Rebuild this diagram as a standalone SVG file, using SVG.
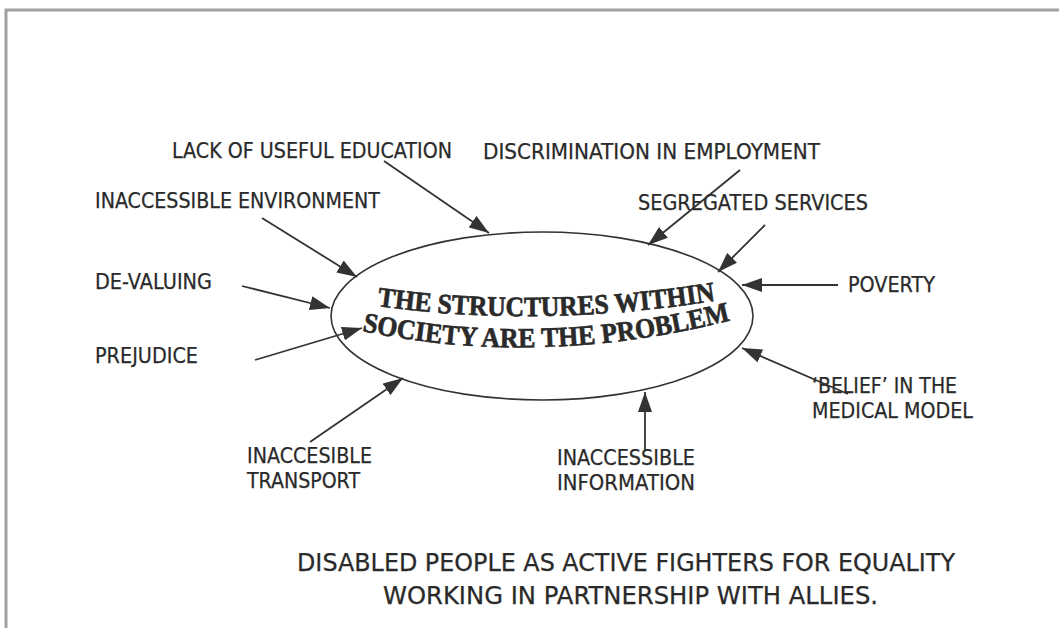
<svg xmlns="http://www.w3.org/2000/svg" width="1059" height="628" viewBox="0 0 1059 628">
<style>
.lbl{font-family:"DejaVu Sans","Liberation Sans",sans-serif;font-size:20.5px;fill:#2a2a2a;stroke:#2a2a2a;stroke-width:0.25}
.foot{font-family:"DejaVu Sans","Liberation Sans",sans-serif;font-size:24px;fill:#2a2a2a;stroke:#2a2a2a;stroke-width:0.25}
.core{font-family:"Liberation Serif","DejaVu Serif",serif;font-size:28px;font-weight:bold;fill:#2a2a2a;stroke:#2a2a2a;stroke-width:0.7}
</style>
<defs>
<marker id="ahb" viewBox="0 0 20 14" refX="20" refY="7" markerWidth="20" markerHeight="14" markerUnits="userSpaceOnUse" orient="auto">
<path d="M0,0 L20,7 L0,14 z" fill="#333"/>
</marker>
<path id="p1" d="M 377 306 Q 540 329 720 300"/>
<path id="p2" d="M 362 331 Q 540 368.5 732 320"/>
</defs>
<rect x="0" y="0" width="1059" height="628" fill="#fff"/>
<rect x="6" y="10" width="1070" height="640" fill="none" stroke="#a0a0a0" stroke-width="3"/>

<g id="core">
<ellipse cx="542" cy="316" rx="211" ry="84" fill="none" stroke="#333" stroke-width="1.6"/>
<text class="core"><textPath href="#p1" textLength="340" lengthAdjust="spacingAndGlyphs">THE STRUCTURES WITHIN</textPath></text>
<text class="core"><textPath href="#p2" textLength="372" lengthAdjust="spacingAndGlyphs">SOCIETY ARE THE PROBLEM</textPath></text>
</g>

<g id="n-education"><text class="lbl" x="172" y="158" textLength="280" lengthAdjust="spacingAndGlyphs">LACK OF USEFUL EDUCATION</text></g>
<g id="n-employment"><text class="lbl" x="483" y="159" textLength="337" lengthAdjust="spacingAndGlyphs">DISCRIMINATION IN EMPLOYMENT</text></g>
<g id="n-environment"><text class="lbl" x="95" y="208" textLength="285" lengthAdjust="spacingAndGlyphs">INACCESSIBLE ENVIRONMENT</text></g>
<g id="n-segregated"><text class="lbl" x="638" y="210" textLength="230" lengthAdjust="spacingAndGlyphs">SEGREGATED SERVICES</text></g>
<g id="n-devaluing"><text class="lbl" x="95" y="289" textLength="117" lengthAdjust="spacingAndGlyphs">DE-VALUING</text></g>
<g id="n-poverty"><text class="lbl" x="848" y="292" textLength="87" lengthAdjust="spacingAndGlyphs">POVERTY</text></g>
<g id="n-prejudice"><text class="lbl" x="95" y="363" textLength="103" lengthAdjust="spacingAndGlyphs">PREJUDICE</text></g>
<g id="n-belief"><text class="lbl" x="812" y="393" textLength="145" lengthAdjust="spacingAndGlyphs">‘BELIEF’ IN THE</text><text class="lbl" x="812" y="418" textLength="161" lengthAdjust="spacingAndGlyphs">MEDICAL MODEL</text></g>
<g id="n-transport"><text class="lbl" x="247" y="463" textLength="125" lengthAdjust="spacingAndGlyphs">INACCESIBLE</text><text class="lbl" x="247" y="488" textLength="113" lengthAdjust="spacingAndGlyphs">TRANSPORT</text></g>
<g id="n-information"><text class="lbl" x="557" y="465" textLength="138" lengthAdjust="spacingAndGlyphs">INACCESSIBLE</text><text class="lbl" x="557" y="490" textLength="138" lengthAdjust="spacingAndGlyphs">INFORMATION</text></g>

<g id="footer"><text class="foot" x="297" y="571" textLength="658" lengthAdjust="spacingAndGlyphs">DISABLED PEOPLE AS ACTIVE FIGHTERS FOR EQUALITY</text><text class="foot" x="383" y="604" textLength="495" lengthAdjust="spacingAndGlyphs">WORKING IN PARTNERSHIP WITH ALLIES.</text></g>

<g id="connectors" stroke="#333" stroke-width="1.8">
<line x1="384" y1="161" x2="489" y2="233" marker-end="url(#ahb)"/>
<line x1="740" y1="170" x2="648" y2="245" marker-end="url(#ahb)"/>
<line x1="765" y1="225" x2="718" y2="272" marker-end="url(#ahb)"/>
<line x1="262" y1="218" x2="357" y2="277" marker-end="url(#ahb)"/>
<line x1="242" y1="286" x2="330" y2="308" marker-end="url(#ahb)"/>
<line x1="255" y1="360" x2="362" y2="328" marker-end="url(#ahb)"/>
<line x1="310" y1="442" x2="403" y2="378" marker-end="url(#ahb)"/>
<line x1="838" y1="285" x2="742" y2="285" marker-end="url(#ahb)"/>
<line x1="848" y1="394" x2="742" y2="348" marker-end="url(#ahb)"/>
<line x1="645" y1="450" x2="645" y2="392" marker-end="url(#ahb)"/>
</g>
</svg>
